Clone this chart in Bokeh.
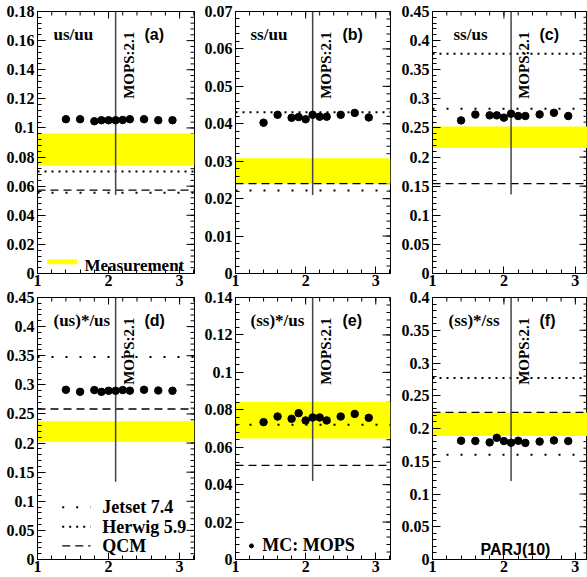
import numpy as np
from bokeh.plotting import figure
from bokeh.models import Range1d, FixedTicker, PrintfTickFormatter
from bokeh.layouts import column, row
from bokeh.embed import file_html
from bokeh.resources import INLINE
from bokeh.core.properties import value

# ---------------- data ----------------
parj10 = [1.4, 1.6, 1.8, 1.9, 2.0, 2.1, 2.2, 2.3, 2.5, 2.7, 2.9]

mops_a = [0.1060, 0.1060, 0.1046, 0.1053, 0.1053, 0.1053, 0.1055, 0.1060, 0.1060, 0.1053, 0.1053]
mops_b = [0.0403, 0.0424, 0.0416, 0.0418, 0.0412, 0.0424, 0.0419, 0.0419, 0.0424, 0.0429, 0.0417]
mops_c = [0.263, 0.273, 0.2716, 0.2716, 0.2677, 0.2745, 0.2705, 0.2705, 0.2733, 0.276, 0.2705]
mops_d = [0.2915, 0.288, 0.291, 0.288, 0.2898, 0.2898, 0.291, 0.290, 0.2915, 0.2903, 0.2898]
mops_e = [0.0734, 0.0764, 0.0752, 0.0782, 0.0743, 0.0759, 0.0759, 0.0743, 0.0764, 0.0778, 0.0757]
mops_f = [0.1813, 0.181, 0.1788, 0.1858, 0.1808, 0.1783, 0.1813, 0.178, 0.180, 0.1818, 0.1808]
mops_series = [mops_a, mops_b, mops_c, mops_d, mops_e, mops_f]

meas_low = [0.0742, 0.0240, 0.2156, 0.2017, 0.0646, 0.1887]
meas_high = [0.0961, 0.0308, 0.2524, 0.2375, 0.0843, 0.2246]
jetset = [0.0555, 0.0222, 0.283, 0.3477, 0.072, 0.160]
herwig = [0.070, 0.0431, 0.3775, None, None, 0.277]
qcm = [0.0573, 0.0240, 0.1545, 0.2585, 0.0503, 0.2246]
mops_default = 2.1
mops_line_end = [0.054, 0.021, 0.1358, 0.1335, 0.042, 0.12]

titles = ["us/uu", "ss/uu", "ss/us", "(us)*/us", "(ss)*/us", "(ss)*/ss"]
tags = ["(a)", "(b)", "(c)", "(d)", "(e)", "(f)"]

y_labels = [
    ["0", "0.02", "0.04", "0.06", "0.08", "0.1", "0.12", "0.14", "0.16", "0.18"],
    ["0", "0.01", "0.02", "0.03", "0.04", "0.05", "0.06", "0.07"],
    ["0", "0.05", "0.1", "0.15", "0.2", "0.25", "0.3", "0.35", "0.4", "0.45"],
    ["0", "0.05", "0.1", "0.15", "0.2", "0.25", "0.3", "0.35", "0.4", "0.45"],
    ["0", "0.02", "0.04", "0.06", "0.08", "0.1", "0.12", "0.14"],
    ["0", "0.05", "0.1", "0.15", "0.2", "0.25", "0.3", "0.35", "0.4"],
]
x_labels = ["1", "2", "3"]
legend_names = ["Jetset 7.4", "Herwig 5.9", "QCM"]

# ---------------- layout ----------------
PH = 262          # plot (frame) height
REF_H = 264.0     # reference frame height used for relative positions
cols = [  # width, left border, right border, x max
    (195, 37, 1, 3.21),
    (197, 40, 2, 3.21),
    (195, 40, 0, 3.17),
]
TOP_ROW = dict(top=11, bottom=16)
BOT_ROW = dict(top=8, bottom=17)

SERIF = "Liberation Serif"
SANS = "Liberation Sans"

DENSE = "2 5"
SPARSE = "2 12"
DASH = "8 5"


def build(i):
    r, c = divmod(i, 3)
    W, left, right, xmax = cols[c]
    brd = TOP_ROW if r == 0 else BOT_ROW
    H = brd["top"] + PH + brd["bottom"]
    pw = W - left - right
    ymax = float(y_labels[i][-1])

    def dx(px):
        return 1 + px * (xmax - 1) / pw

    def dy(px):
        return ymax * (1 - px / REF_H)

    p = figure(width=W, height=H, x_range=Range1d(1, xmax), y_range=Range1d(0, ymax),
               output_backend="svg", toolbar_location=None,
               min_border_left=left, min_border_right=right,
               min_border_top=brd["top"], min_border_bottom=brd["bottom"])
    p.grid.visible = False
    p.outline_line_color = "black"
    p.outline_line_width = 1
    p.background_fill_color = "white"
    p.border_fill_color = "white"

    yt = [float(s) for s in y_labels[i]]
    ystep = yt[1] - yt[0]
    yminor = [float(v) for v in np.arange(0, ymax + 1e-9, ystep / 5)]
    xt = [float(s) for s in x_labels]
    xminor = [float(v) for v in np.arange(1.0, xmax + 1e-9, 0.2)]

    ax = p.yaxis[0]
    ax.ticker = FixedTicker(ticks=yt, minor_ticks=yminor)
    ax.major_tick_in = 8
    ax.minor_tick_in = 4
    ax.major_label_standoff = 3
    ax = p.xaxis[0]
    ax.ticker = FixedTicker(ticks=xt, minor_ticks=xminor)
    ax.major_tick_in = 7
    ax.minor_tick_in = 4
    ax.major_label_standoff = 1
    for ax in (p.xaxis[0], p.yaxis[0]):
        ax.formatter = PrintfTickFormatter(format="%g")
        ax.major_tick_out = 0
        ax.minor_tick_out = 0
        ax.axis_line_color = "black"
        ax.major_tick_line_color = "black"
        ax.minor_tick_line_color = "black"
        ax.major_label_text_font = SERIF
        ax.major_label_text_font_style = "bold"
        ax.major_label_text_font_size = "16px"
        ax.major_label_text_color = "black"

    # tick marks on the right and top edges (frame-clipped dash markers)
    p.scatter(x=[xmax] * len(yt), y=yt, marker="dash", size=16, line_color="black", line_width=1)
    p.scatter(x=[xmax] * len(yminor), y=yminor, marker="dash", size=8, line_color="black", line_width=1)
    p.scatter(x=xt, y=[ymax] * len(xt), marker="dash", angle=np.pi / 2, size=14,
              line_color="black", line_width=1)
    p.scatter(x=xminor, y=[ymax] * len(xminor), marker="dash", angle=np.pi / 2, size=8,
              line_color="black", line_width=1)

    # measurement band
    p.quad(left=[1], right=[xmax], bottom=[meas_low[i]], top=[meas_high[i]],
           fill_color="#ffff00", line_color=None)

    # model predictions
    if herwig[i] is not None:
        p.line(x=[1, xmax], y=[herwig[i]] * 2, line_color="black", line_width=2, line_dash=DENSE)
    p.line(x=[1, xmax], y=[jetset[i]] * 2, line_color="black", line_width=2, line_dash=SPARSE)
    p.line(x=[1, xmax], y=[qcm[i]] * 2, line_color="black", line_width=1.3, line_dash=DASH)

    # MOPS default value line
    p.line(x=[mops_default] * 2, y=[ymax, mops_line_end[i]], line_color="#444444", line_width=1.5)
    p.text(x=[mops_default], y=[dy(88)], text=["MOPS:2.1"], angle=np.pi / 2,
           text_align="left", text_baseline="middle", x_offset=13,
           text_font=value(SERIF), text_font_style="bold", text_font_size="15px",
           text_color="black")

    # MC points
    p.scatter(x=parj10, y=mops_series[i], size=7.5, marker="circle",
              fill_color="black", line_color="black")

    # panel titles
    tx = [16, 15, 21, 16, 15, 16][i]
    p.text(x=[dx(tx)], y=[dy(23)], text=[titles[i]], text_align="left",
           text_baseline="alphabetic", text_font=value(SERIF), text_font_style="bold",
           text_font_size="17px", text_color="black")
    p.text(x=[dx(107)], y=[dy(23)], text=[tags[i]], text_align="left",
           text_baseline="alphabetic", text_font=value(SANS), text_font_style="bold",
           text_font_size="16px", text_color="black")

    if i == 0:
        p.quad(left=[dx(9.7)], right=[dx(39.7)], bottom=[dy(254.7)], top=[dy(250)],
               fill_color="#ffff00", line_color=None)
        p.text(x=[dx(47)], y=[dy(255.5)], text=["Measurement"], text_align="left",
               text_baseline="alphabetic", text_font=value(SERIF), text_font_style="bold",
               text_font_size="17px", text_color="black")
    if i == 3:
        ys = [dy(211.3), dy(231), dy(250.3)]
        dashes = [(SPARSE, 2), (DENSE, 2), (DASH, 1.3)]
        for yy, (dsh, lw), name in zip(ys, dashes, legend_names):
            p.line(x=[dx(24.7), dx(53)], y=[yy, yy], line_color="black", line_width=lw, line_dash=dsh)
            p.text(x=[dx(64.7)], y=[yy], text=[name], text_align="left", text_baseline="middle",
                   text_font=value(SERIF), text_font_style="bold", text_font_size="18px",
                   text_color="black")
    if i == 4:
        p.scatter(x=[dx(16)], y=[dy(250.3)], size=4, marker="circle",
                  fill_color="black", line_color="black")
        p.text(x=[dx(26.7)], y=[dy(249.3)], text=["MC: MOPS"], text_align="left",
               text_baseline="middle", text_font=value(SERIF), text_font_style="bold",
               text_font_size="18px", text_color="black")
    if i == 5:
        p.text(x=[dx(48)], y=[dy(253.7)], text=["PARJ(10)"], text_align="left",
               text_baseline="middle", text_font=value(SANS), text_font_style="bold",
               text_font_size="16px", text_color="black")
    return p


figs = [build(i) for i in range(6)]
layout = column(row(*figs[:3], spacing=0), row(*figs[3:], spacing=0), spacing=0)

open("out.html", "w").write(file_html(layout, INLINE))
